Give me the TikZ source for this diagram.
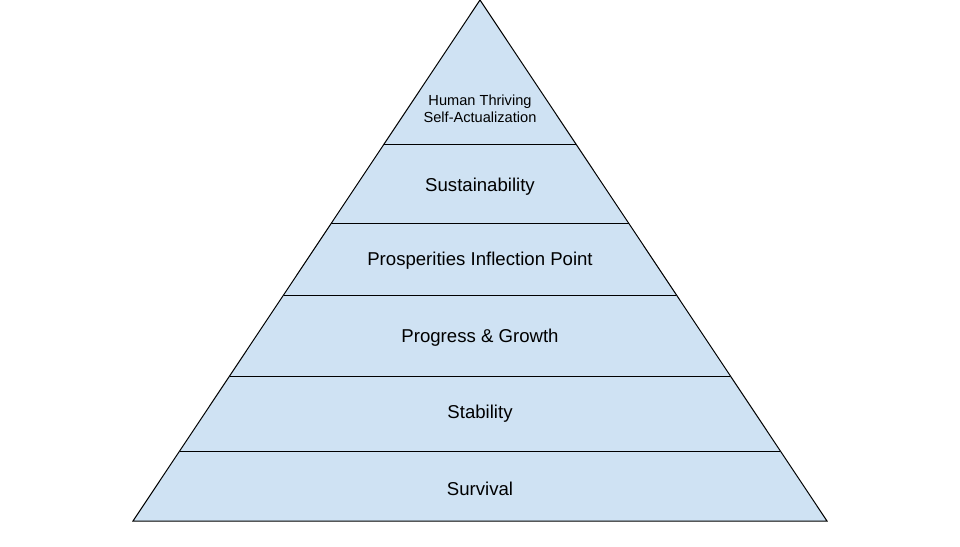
\documentclass[tikz,border=0pt]{standalone}
\usepackage{fontspec}
\setmainfont{Liberation Sans}
\definecolor{tierfill}{HTML}{CFE2F3}
\begin{document}
\begin{tikzpicture}[x=1pt,y=-1pt,
  tierline/.style={draw=black,line width=1pt},
  lbl/.style={inner sep=0pt,align=center,font=\fontsize{18.6}{22}\selectfont},
  smalllbl/.style={inner sep=0pt,align=center,font=\fontsize{14.6}{17}\selectfont}]
\useasboundingbox (0,0) rectangle (960,546);
\coordinate (apex) at (480,0);
\coordinate (bl) at (133,521);
\coordinate (br) at (827,521);
\fill[tierfill] (apex) -- (bl) -- (br) -- cycle;
% tier lines
\foreach \yy/\nm in {144/a,223/b,295/c,376/d,451/e}{
  \pgfmathsetmacro{\dx}{(347/521)*(521-\yy)}
  \coordinate (L\nm) at ({133+\dx},\yy);
  \coordinate (R\nm) at ({827-\dx},\yy);
  \draw[tierline] (L\nm) -- (R\nm);
}
\draw[tierline,line join=miter] (apex) -- (bl) -- (br) -- cycle;
\node[smalllbl] (t6) at (480,109) {Human Thriving\\Self-Actualization};
\node[lbl] (t5) at (480,187) {Sustainability};
\node[lbl] (t4) at (480,261) {Prosperities Inflection Point};
\node[lbl] (t3) at (480,338) {Progress \& Growth};
\node[lbl] (t2) at (480,414) {Stability};
\node[lbl] (t1) at (480,489) {Survival};
\end{tikzpicture}
\end{document}
